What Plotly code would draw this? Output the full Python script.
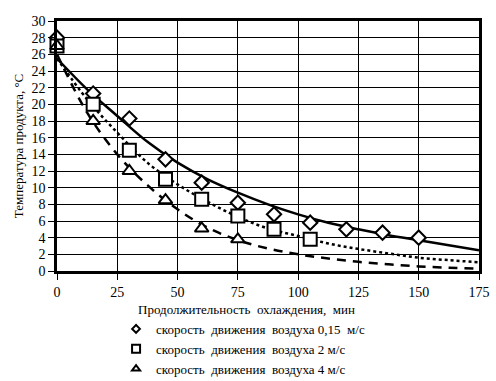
import plotly.graph_objects as go

# Measured data (time, min ; temperature, °C)
t_015 = [0, 15, 30, 45, 60, 75, 90, 105, 120, 135, 150]
T_015 = [28.0, 21.3, 18.3, 13.4, 10.6, 8.2, 6.8, 5.8, 5.0, 4.6, 4.0]

t_2 = [0, 15, 30, 45, 60, 75, 90, 105]
T_2 = [27.0, 20.0, 14.5, 11.0, 8.6, 6.6, 5.0, 3.8]

t_4 = [0, 15, 30, 45, 60, 75]
T_4 = [27.0, 18.0, 12.0, 8.5, 5.1, 3.8]

# Trend lines
t_trend = [0, 12.5, 25, 37.5, 50, 62.5, 75, 87.5, 100, 112.5, 125, 137.5, 150, 162.5, 175]
trend_015 = [25.5, 21.8, 18.6, 15.5, 13.0, 11.0, 9.4, 8.0, 6.8, 5.8, 5.0, 4.3, 3.7, 3.1, 2.5]
trend_2 = [25.5, 20.6, 16.6, 13.0, 10.4, 8.3, 6.5, 5.1, 4.2, 3.3, 2.65, 2.1, 1.6, 1.3, 1.05]
trend_4 = [26.0, 19.0, 14.0, 10.3, 7.4, 5.2, 3.7, 2.7, 2.0, 1.5, 1.1, 0.8, 0.55, 0.4, 0.28]

labels = ["скорость  движения  воздуха 0,15  м/с",
          "скорость  движения  воздуха 2 м/с",
          "скорость  движения  воздуха 4 м/с"]
x_title = "Продолжительность  охлаждения,  мин"
y_title = "Температура продукта, °С"

FONT = "Liberation Serif, Times New Roman, serif"

fig = go.Figure()

# trend lines
fig.add_trace(go.Scatter(x=t_trend, y=trend_015, mode="lines", line=dict(color="black", width=2.5, shape="spline"), showlegend=False))
fig.add_trace(go.Scatter(x=t_trend, y=trend_2, mode="lines", line=dict(color="black", width=2.5, dash="dot", shape="spline"), showlegend=False))
fig.add_trace(go.Scatter(x=t_trend, y=trend_4, mode="lines", line=dict(color="black", width=2.5, dash="9px,7px", shape="spline"), showlegend=False))

# markers
mk = dict(color="white", line=dict(color="black", width=2))
fig.add_trace(go.Scatter(x=t_015, y=T_015, mode="markers", marker=dict(symbol="diamond", size=11, **mk), showlegend=False, cliponaxis=False))
fig.add_trace(go.Scatter(x=t_2, y=T_2, mode="markers", marker=dict(symbol="square", size=13, **mk), showlegend=False, cliponaxis=False))
fig.add_trace(go.Scatter(x=t_4, y=T_4, mode="markers", marker=dict(symbol="triangle-up", size=12, **mk), showlegend=False, cliponaxis=False))

# legend entries (small symbols like the reference)
for sym, lab, sz in [("diamond", labels[0], 6), ("square", labels[1], 8), ("triangle-up", labels[2], 7)]:
    fig.add_trace(go.Scatter(x=[None], y=[None], mode="markers", name=lab,
                             marker=dict(symbol=sym, size=sz, color="white", line=dict(color="black", width=2))))

fig.update_layout(
    width=496, height=381,
    margin=dict(l=57, r=17, t=21, b=110, autoexpand=False),
    paper_bgcolor="white", plot_bgcolor="white",
    font=dict(family=FONT, size=13, color="black"),
    showlegend=True,
    legend=dict(xref="container", yref="container", x=0.234, xanchor="left", y=0.176, yanchor="top",
                font=dict(family=FONT, size=13, color="black"),
                itemwidth=30, tracegroupgap=0, bgcolor="rgba(0,0,0,0)"),
    annotations=[
        dict(text=y_title, xref="paper", yref="paper", x=-0.092, y=0.5,
             xanchor="center", yanchor="middle", textangle=-90, showarrow=False,
             font=dict(family=FONT, size=13, color="black")),
        dict(text=x_title, xref="paper", yref="paper", x=0.45, y=-0.152,
             xanchor="center", yanchor="middle", showarrow=False,
             font=dict(family=FONT, size=13, color="black")),
    ],
)

fig.update_xaxes(range=[0, 175], tickvals=[0, 25, 50, 75, 100, 125, 150, 175],
                 tickfont=dict(family=FONT, size=14, color="black"),
                 showgrid=True, gridcolor="black", gridwidth=1,
                 showline=True, linecolor="black", linewidth=2.5, mirror=True,
                 ticks="outside", ticklen=6, tickcolor="black", tickwidth=1,
                 zeroline=False, automargin=False)
fig.update_yaxes(range=[0, 30], dtick=2,
                 tickfont=dict(family=FONT, size=14, color="black"),
                 showgrid=True, gridcolor="black", gridwidth=1,
                 showline=True, linecolor="black", linewidth=2.5, mirror=True,
                 ticks="outside", ticklen=6, tickcolor="black", tickwidth=1,
                 zeroline=False, automargin=False)

fig.write_html("out.html", config={"displayModeBar": False},
               post_script="document.body.style.margin='0';document.body.style.padding='0';")
